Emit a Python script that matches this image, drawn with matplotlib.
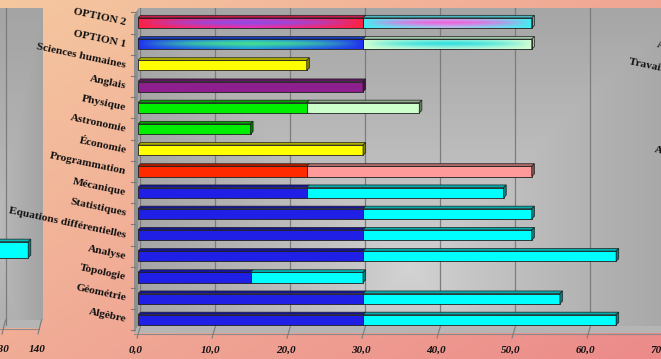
import numpy as np
import matplotlib
matplotlib.use("Agg")
import matplotlib.pyplot as plt
import matplotlib.transforms as mtransforms
from matplotlib.patches import Polygon, Rectangle
from matplotlib.colors import to_rgb

# ---------------------------------------------------------------- data
categories = ["Algèbre", "Géométrie", "Topologie", "Analyse",
              "Equations différentielles", "Statistiques", "Mécanique",
              "Programmation", "Économie", "Astronomie", "Physique",
              "Anglais", "Sciences humaines", "OPTION 1", "OPTION 2"]
base_hours = [30, 30, 15, 30, 30, 30, 22.5, 22.5, 30, 15, 22.5, 30, 22.5, 30, 30]
extra_hours = [33.75, 26.25, 15, 33.75, 22.5, 22.5, 26.25, 30, 0, 0, 15, 0, 0, 22.5, 22.5]
base_colors = ["#1f1fe6", "#1f1fe6", "#1f1fe6", "#1f1fe6", "#1f1fe6", "#1f1fe6",
               "#1f1fe6", "#ff2a00", "#ffff00", "#00ee00", "#00ee00", "#8e1f8e",
               "#ffff00", "option1_a", "option2_a"]
extra_colors = ["#00ffff", "#00ffff", "#00ffff", "#00ffff", "#00ffff", "#00ffff",
                "#00ffff", "#ff9a9a", "#ffff00", "#00ee00", "#ccffcc", "#8e1f8e",
                "#ffff00", "option1_b", "option2_b"]
x_ticks = [0, 10, 20, 30, 40, 50, 60, 70]
x_tick_labels = ["0,0", "10,0", "20,0", "30,0", "40,0", "50,0", "60,0", "70,0"]

# neighbouring panel on the left (only its right end is in view)
left_ticks = [130, 140]
left_values = [137]
left_color = "#00ffff"
# neighbouring panel on the right (only the first letters are in view)
right_labels = ["Anglais", "Travail personnel", "Astronomie"]

# gradient fills: (end colour, middle colour, centre-line colour)
gradients = {
    "option2_a": ("#ff2040", "#ec2fb4", "#8a4ce6"),
    "option2_b": ("#3ff0f0", "#b4c4f0", "#f060dc"),
    "option1_a": ("#2030f0", "#1fa2e6", "#44e08c"),
    "option1_b": ("#d2ffd2", "#b4f2dc", "#2ee0e0"),
}

W, H = 661, 359
fig = plt.figure(figsize=(W / 100, H / 100), dpi=100)


def px_axes(x, y, w, h, z):
    ax = fig.add_axes([x / W, 1 - (y + h) / H, w / W, h / H])
    ax.set_zorder(z)
    ax.patch.set_alpha(0)
    return ax


def shade(c, f):
    return tuple(np.clip(np.array(to_rgb(c)) * f, 0, 1))


# ---------------------------------------------------------------- backdrop (pixel coordinates)
deco = px_axes(0, 0, W, H, -5)
deco.set_xlim(0, W)
deco.set_ylim(H, 0)
deco.axis("off")

yy, xx = np.mgrid[0:H, 0:W]
t = (0.55 * xx / W + 0.45 * yy / H)[..., None]
c0, c1 = np.array(to_rgb("#f5c8a0")), np.array(to_rgb("#ec8a8a"))
deco.imshow(c0 + (c1 - c0) * t, extent=(0, W, H, 0), aspect="auto", zorder=0)


def wall_image(w, h, cx, cy, light, dark):
    X, Y = np.meshgrid(np.linspace(0, 1, w), np.linspace(0, 1, h))
    d = np.maximum(np.abs(X - cx) / max(cx, 1 - cx), np.abs(Y - cy) / max(cy, 1 - cy))
    d = np.clip(d, 0, 1)[..., None] ** 0.8
    lc, dc = np.array(to_rgb(light)), np.array(to_rgb(dark))
    return lc + (dc - lc) * d


# main back wall
deco.imshow(wall_image(523, 318, 0.52, 0.82, "#d4d4d4", "#a6a6a6"),
            extent=(138, 661, 326, 8), aspect="auto", zorder=1)
# left side wall of the main panel
deco.add_patch(Polygon([(134, 15), (138, 9), (138, 326), (134, 333)],
                       closed=True, fc="#8f8f8f", ec="none", zorder=2))
# floor of the main panel
deco.add_patch(Polygon([(138, 326), (661, 326), (661, 333), (134, 333)],
                       closed=True, fc="#b5b5b5", ec="none", zorder=2))
deco.plot([134, 661], [333.5, 333.5], color="#8a8a8a", lw=0.8, zorder=3)

# left neighbouring panel wall + floor
deco.imshow(wall_image(60, 312, 0.2, 0.7, "#bdbdbd", "#a4a4a4"),
            extent=(-15, 43, 320, 8), aspect="auto", zorder=1)
deco.add_patch(Polygon([(-15, 320), (43, 320), (39, 328), (-15, 328)],
                       closed=True, fc="#b5b5b5", ec="none", zorder=2))
deco.plot([-15, 39], [328.5, 328.5], color="#8a8a8a", lw=0.8, zorder=3)

# ---------------------------------------------------------------- grid on the back wall
grid_ax = px_axes(140, 8, 525, 318, -4)
grid_ax.set_xlim(0, 70)
grid_ax.set_ylim(0, 1)
grid_ax.set_xticks(x_ticks)
grid_ax.tick_params(length=0, labelbottom=False, labelleft=False)
grid_ax.set_yticks([])
grid_ax.grid(axis="x", color="#7c7c7c", lw=0.9)
for s in grid_ax.spines.values():
    s.set_visible(False)

# ---------------------------------------------------------------- main bars
ax = px_axes(138, 12.4, 525, 320.6, 0)
ax.set_xlim(0, 70)
ax.set_ylim(-0.62, 14.5)
ax.axis("off")

bar_h = 0.48
dx = 2.6 / 7.5      # depth of the 3-D top face, in data units
dy = 2.6 / 21.2
edge = "#1e1e1e"


def gradient_fill(key, x0, x1, yc):
    e, m, c = (np.array(to_rgb(v)) for v in gradients[key])
    X, Y = np.meshgrid(np.linspace(-1, 1, 200), np.linspace(-1, 1, 24))
    base = e + (m - e) * (1 - np.abs(X))[..., None]
    w = ((1 - np.abs(Y)) * (1 - np.abs(X) ** 2))[..., None]
    img = base + (c - base) * w
    ax.imshow(np.clip(img, 0, 1), extent=(x0, x1, yc - bar_h / 2, yc + bar_h / 2),
              aspect="auto", origin="lower", interpolation="bilinear", zorder=3)
    return tuple(e * 0.6 + m * 0.2)


ypos = np.arange(len(categories))
for i, yc in enumerate(ypos):
    segments = [(0, base_hours[i], base_colors[i]),
                (base_hours[i], base_hours[i] + extra_hours[i], extra_colors[i])]
    segments = [s for s in segments if s[1] > s[0]]
    for k, (x0, x1, col) in enumerate(segments):
        if col in gradients:
            top = gradient_fill(col, x0, x1, yc)
            ax.add_patch(Rectangle((x0, yc - bar_h / 2), x1 - x0, bar_h,
                                   fill=False, ec=edge, lw=0.6, zorder=4))
            side = top
        else:
            ax.barh(yc, x1 - x0, left=x0, height=bar_h, color=col,
                    edgecolor=edge, linewidth=0.6, zorder=3)
            top, side = shade(col, 0.68), shade(col, 0.5)
        yt = yc + bar_h / 2
        ax.add_patch(Polygon([(x0, yt), (x1, yt), (x1 + dx, yt + dy), (x0 + dx, yt + dy)],
                             closed=True, fc=top, ec=edge, lw=0.5, zorder=3))
        if k == len(segments) - 1:
            yb = yc - bar_h / 2
            ax.add_patch(Polygon([(x1, yb), (x1 + dx, yb + dy), (x1 + dx, yt + dy), (x1, yt)],
                                 closed=True, fc=side, ec=edge, lw=0.5, zorder=3))

# category labels and small ticks on the left edge
ylab_tr = ax.get_yaxis_transform() + mtransforms.ScaledTranslation(-12 / 100, 0, fig.dpi_scale_trans)
for yc, name in zip(ypos, categories):
    ax.text(0, yc, name, transform=ylab_tr, rotation=-12, rotation_mode="anchor",
            ha="right", va="center", fontsize=8.2, fontweight="bold",
            family="Liberation Serif", color="#111111")
for b in np.arange(-0.5, len(categories), 1.0):
    ax.plot([-7 / 525, -3 / 525], [b, b], transform=ax.get_yaxis_transform(),
            color="#7a7a7a", lw=0.8, clip_on=False)

# x tick labels and the slanted floor marks
xlab_tr = ax.get_xaxis_transform() + mtransforms.ScaledTranslation(-2.5 / 100, -17 / 100, fig.dpi_scale_trans)
for v, lab in zip(x_ticks, x_tick_labels):
    ax.text(v, -0.0, lab, transform=xlab_tr, ha="center", va="center",
            fontsize=8, fontweight="bold", style="italic",
            family="Liberation Serif", color="#111111", clip_on=False)
for v in x_ticks:
    xd = ax.transData.transform((v, 0))[0]
    deco.plot([xd + 2.5, xd - 1], [326, 338], color="#7a7a7a", lw=0.8, zorder=3)

# ---------------------------------------------------------------- left neighbouring panel
lax = px_axes(-465, 8, 508, 318, 0)
lax.set_xlim(0, 508 / 3.6)
lax.set_ylim(-2.4, 7.6)
lax.axis("off")
lax.axvline(left_ticks[0] + 0.9, color="#7c7c7c", lw=0.9, zorder=1)
lbh = 0.5
ldx, ldy = 2.6 / 3.6, 2.6 / 31.8
for j, v in enumerate(left_values):
    lax.barh(j, v, height=lbh, color=left_color, edgecolor=edge, linewidth=0.6, zorder=3)
    yt, yb = j + lbh / 2, j - lbh / 2
    lax.add_patch(Polygon([(0, yt), (v, yt), (v + ldx, yt + ldy), (ldx, yt + ldy)],
                          closed=True, fc=shade(left_color, 0.72), ec=edge, lw=0.5, zorder=3))
    lax.add_patch(Polygon([(v, yb), (v + ldx, yb + ldy), (v + ldx, yt + ldy), (v, yt)],
                          closed=True, fc=shade(left_color, 0.5), ec=edge, lw=0.5, zorder=3))
lxl_tr = lax.get_xaxis_transform() + mtransforms.ScaledTranslation(-2 / 100, -23 / 100, fig.dpi_scale_trans)
for v in left_ticks:
    lax.text(v, 0, str(v), transform=lxl_tr, ha="center", va="center",
             fontsize=8, fontweight="bold", style="italic",
             family="Liberation Serif", color="#111111", clip_on=False)
    xd = lax.transData.transform((v, 0))[0]
    deco.plot([xd + 2.5, xd - 1], [320, 334], color="#7a7a7a", lw=0.8, zorder=3)

# ---------------------------------------------------------------- right neighbouring panel labels
for (xp, yp), name in zip([(657, 45), (629, 62), (654, 150)], right_labels):
    deco.text(xp, yp, name, rotation=-12, rotation_mode="anchor", ha="left",
              va="center", fontsize=8.2, fontweight="bold",
              family="Liberation Serif", color="#111111", zorder=4)

fig.savefig("out.png", dpi=100)
